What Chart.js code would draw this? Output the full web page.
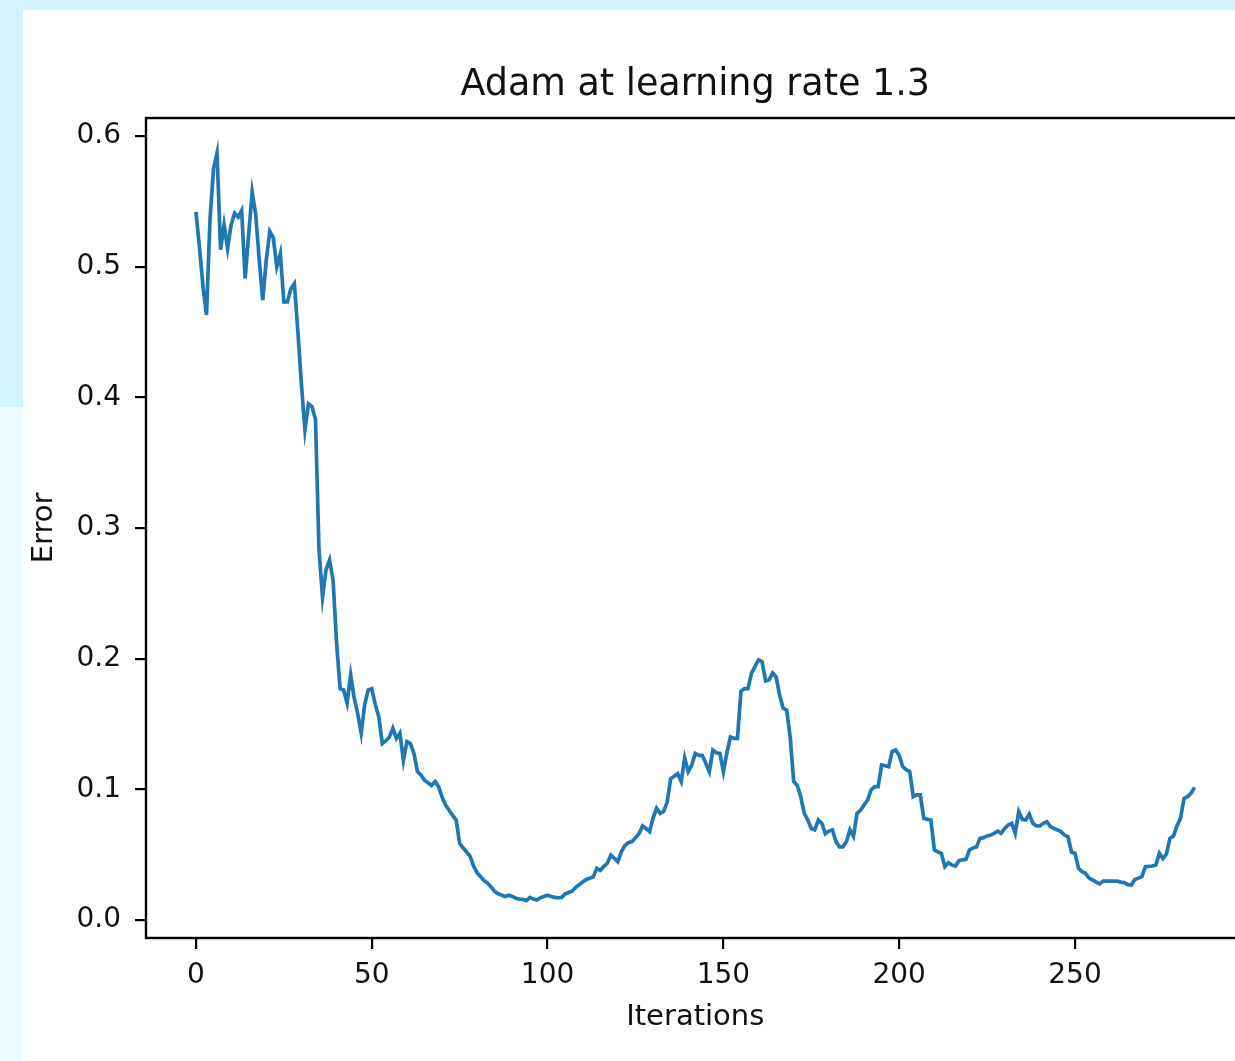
<!DOCTYPE html>
<html>
<head>
<meta charset="utf-8">
<title>Adam at learning rate 1.3</title>
<script src="https://cdn.jsdelivr.net/npm/chart.js@4.4.1/dist/chart.umd.min.js"></script>
<style>
  html, body { margin: 0; padding: 0; }
  body { width: 1235px; height: 1061px; overflow: hidden; position: relative; background: #ffffff; }
  #top-strip { position: absolute; left: 0; top: 0; width: 1235px; height: 10px; background: #d4f4fd; }
  #side-strip { position: absolute; left: 0; top: 0; width: 23px; height: 407px; background: #d4f4fd; }
  #side-strip-low { position: absolute; left: 0; top: 407px; width: 23px; height: 654px; background: #eefdff; }
  #chart { position: absolute; left: 0; top: 0; }
</style>
</head>
<body>
<div id="top-strip"></div>
<div id="side-strip"></div>
<div id="side-strip-low"></div>
<canvas id="chart" width="1260" height="1061"></canvas>
<script>
// error per iteration, one value per step
var errorValues = [
  0.542, 0.515, 0.485, 0.463, 0.536, 0.575, 0.587, 0.513, 0.532, 0.514, 0.532,
  0.541, 0.538, 0.543, 0.491, 0.525, 0.557, 0.540, 0.505, 0.4745, 0.505,
  0.527, 0.522, 0.500, 0.510, 0.473, 0.473, 0.483, 0.487, 0.450, 0.410,
  0.375, 0.395, 0.393, 0.383, 0.283, 0.247, 0.268, 0.2755, 0.260, 0.212,
  0.177, 0.176, 0.166, 0.1875, 0.170, 0.158, 0.143, 0.165, 0.176, 0.177,
  0.165, 0.1556, 0.135, 0.137, 0.140, 0.1467, 0.139, 0.143, 0.122, 0.1365,
  0.135, 0.1275, 0.1135, 0.111, 0.107, 0.105, 0.103, 0.106, 0.102, 0.094,
  0.088, 0.084, 0.080, 0.0765, 0.0587, 0.055, 0.052, 0.0485, 0.041, 0.036,
  0.033, 0.030, 0.028, 0.025, 0.0217, 0.020, 0.019, 0.018, 0.019, 0.018,
  0.0166, 0.016, 0.0158, 0.0148, 0.0173, 0.016, 0.0153, 0.017, 0.018, 0.019,
  0.018, 0.0173, 0.017, 0.0173, 0.020, 0.021, 0.022, 0.025, 0.027, 0.029,
  0.031, 0.032, 0.033, 0.0395, 0.038, 0.041, 0.0434, 0.0497, 0.0472, 0.0446,
  0.0523, 0.057, 0.0592, 0.060, 0.063, 0.066, 0.072, 0.070, 0.0676, 0.078,
  0.0855, 0.0816, 0.083, 0.090, 0.108, 0.110, 0.112, 0.106, 0.124, 0.1135,
  0.1186, 0.1275, 0.126, 0.126, 0.120, 0.1135, 0.130, 0.128, 0.1275, 0.1135,
  0.128, 0.140, 0.139, 0.139, 0.175, 0.177, 0.177, 0.189, 0.194, 0.199,
  0.1977, 0.183, 0.1837, 0.189, 0.186, 0.172, 0.162, 0.1607, 0.140, 0.106,
  0.103, 0.0944, 0.0816, 0.0765, 0.070, 0.069, 0.0765, 0.074, 0.066, 0.068,
  0.069, 0.060, 0.056, 0.056, 0.060, 0.069, 0.064, 0.0816, 0.084, 0.088,
  0.0918, 0.0995, 0.102, 0.102, 0.1186, 0.118, 0.1173, 0.129, 0.130, 0.126,
  0.1173, 0.115, 0.1135, 0.0944, 0.0957, 0.0957, 0.0778, 0.077, 0.0765, 0.0536,
  0.052, 0.051, 0.0408, 0.0438, 0.042, 0.0413, 0.0454, 0.046, 0.0464, 0.0536,
  0.055, 0.056, 0.0625, 0.063, 0.0643, 0.065, 0.0663, 0.068, 0.0663, 0.070,
  0.0727, 0.074, 0.0663, 0.0829, 0.077, 0.0765, 0.081, 0.074, 0.072, 0.072,
  0.074, 0.0752, 0.0714, 0.070, 0.0689, 0.0676, 0.065, 0.0637, 0.052, 0.051,
  0.0395, 0.037, 0.0357, 0.032, 0.0306, 0.029, 0.0276, 0.0298, 0.0298, 0.0298,
  0.0298, 0.0298, 0.029, 0.0286, 0.027, 0.0268, 0.031, 0.032, 0.0332, 0.0408,
  0.041, 0.0413, 0.042, 0.051, 0.047, 0.0505, 0.0625, 0.0643, 0.072, 0.0778,
  0.093, 0.0944, 0.097, 0.1015
];
var xTickValues = [0, 50, 100, 150, 200, 250];
var yTickValues = [0.0, 0.1, 0.2, 0.3, 0.4, 0.5, 0.6];

Chart.defaults.font.family = 'DejaVu Sans';
Chart.defaults.color = '#111';

var points = errorValues.map(function(v, i) { return { x: i, y: v }; });

// black box around the plot area, like a matplotlib frame
var frame = {
  id: 'frame',
  afterDatasetsDraw: function(chart) {
    var a = chart.chartArea;
    var ctx = chart.ctx;
    ctx.save();
    ctx.strokeStyle = '#000';
    ctx.lineWidth = 2.4;
    ctx.strokeRect(a.left, a.top, a.right - a.left, a.bottom - a.top);
    ctx.restore();
  }
};

var ctx = document.getElementById('chart').getContext('2d');

var myChart = new Chart(ctx, {
  type: 'line',
  data: {
    datasets: [{
      label: 'Error',
      data: points,
      borderColor: '#1f77b4',
      borderWidth: 3.7,
      pointRadius: 0,
      tension: 0,
      fill: false
    }]
  },
  options: {
    responsive: false,
    animation: false,
    devicePixelRatio: 1,
    layout: { padding: { left: 0, top: 0, right: 15.5, bottom: 0 } },
    plugins: {
      legend: { display: false },
      tooltip: { enabled: false },
      title: {
        display: true,
        text: 'Adam at learning rate 1.3',
        fullSize: false,
        color: '#111',
        font: { size: 36.5, weight: 'normal' },
        padding: { top: 64, bottom: 10.2 }
      }
    },
    scales: {
      x: {
        type: 'linear',
        min: -14.2,
        max: 298.2,
        afterBuildTicks: function(scale) {
          scale.ticks = xTickValues.map(function(v) { return { value: v }; });
        },
        afterFit: function(scale) { scale.height = 123; },
        ticks: {
          font: { size: 28 },
          color: '#111',
          padding: 9.5,
          maxRotation: 0,
          callback: function(v) { return String(v); }
        },
        grid: {
          drawOnChartArea: false,
          drawTicks: true,
          tickLength: 11,
          tickWidth: 2.2,
          tickColor: '#000',
          lineWidth: 2.2
        },
        border: { display: false },
        title: {
          display: true,
          text: 'Iterations',
          color: '#111',
          font: { size: 29 },
          padding: { top: 0, bottom: 26.6 }
        }
      },
      y: {
        type: 'linear',
        min: -0.0138,
        max: 0.6138,
        afterBuildTicks: function(scale) {
          scale.ticks = yTickValues.map(function(v) { return { value: v }; });
        },
        afterFit: function(scale) { scale.width = 146; },
        ticks: {
          font: { size: 28 },
          color: '#111',
          padding: 14,
          callback: function(v) { return v.toFixed(1); }
        },
        grid: {
          drawOnChartArea: false,
          drawTicks: true,
          tickLength: 11,
          tickWidth: 2.2,
          tickColor: '#000',
          lineWidth: 2.2
        },
        border: { display: false },
        title: {
          display: true,
          text: 'Error',
          color: '#111',
          font: { size: 29 },
          padding: { top: 26.6, bottom: 0 }
        }
      }
    }
  },
  plugins: [frame]
});
</script>
</body>
</html>
